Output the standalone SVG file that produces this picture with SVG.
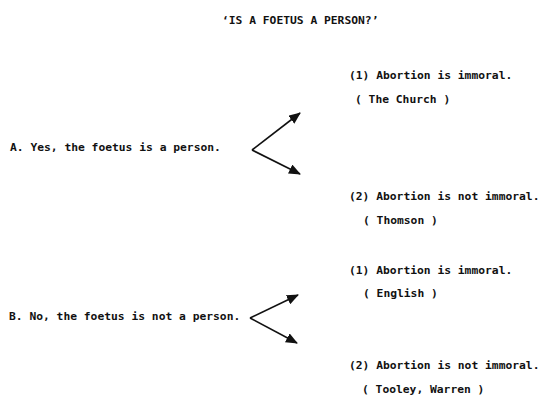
<svg xmlns="http://www.w3.org/2000/svg" width="541" height="397" viewBox="0 0 541 397">
<style>
text{font-family:"DejaVu Sans Mono","Liberation Mono",monospace;font-weight:bold;font-size:11.3px;fill:#111}
.c{stroke:#111;stroke-width:1.6;fill:none}
</style>
<defs>
<marker id="ah" viewBox="0 0 12 10" refX="11" refY="5" markerWidth="12" markerHeight="10" markerUnits="userSpaceOnUse" orient="auto">
<path d="M0,0 L12,5 L0,10 z" fill="#111"/>
</marker>
</defs>
<rect width="541" height="397" fill="#fff"/>
<g id="title"><text x="222" y="24">‘IS A FOETUS A PERSON?’</text></g>
<g id="nodeA"><text x="10" y="151">A. Yes, the foetus is a person.</text></g>
<g id="nodeB"><text x="9" y="320">B. No, the foetus is not a person.</text></g>
<g id="nodeA1"><text x="349" y="79">(1) Abortion is immoral.</text><text x="355" y="103">( The Church )</text></g>
<g id="nodeA2"><text x="349" y="200">(2) Abortion is not immoral.</text><text x="363" y="224">( Thomson )</text></g>
<g id="nodeB1"><text x="349" y="274">(1) Abortion is immoral.</text><text x="363" y="297">( English )</text></g>
<g id="nodeB2"><text x="349" y="369">(2) Abortion is not immoral.</text><text x="362" y="393">( Tooley, Warren )</text></g>
<g id="connectors">
<path class="c" d="M252,150 L300,113" marker-end="url(#ah)"/>
<path class="c" d="M252,150 L300,174" marker-end="url(#ah)"/>
<path class="c" d="M250,318 L298,295" marker-end="url(#ah)"/>
<path class="c" d="M250,318 L297,343" marker-end="url(#ah)"/>
</g>
</svg>
